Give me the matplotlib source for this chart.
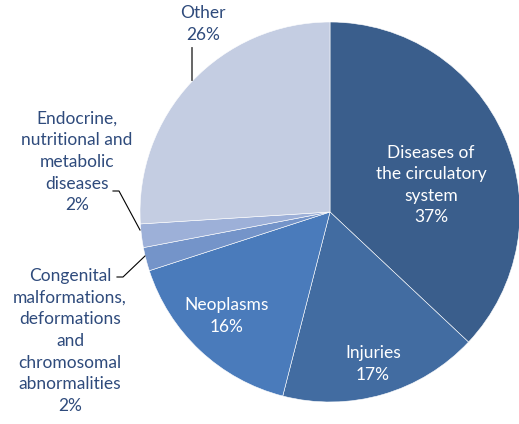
import matplotlib.pyplot as plt

# данные
categories = ["Diseases of\nthe circulatory\nsystem", "Injuries", "Neoplasms",
              "Congenital\nmalformations,\ndeformations\nand\nchromosomal\nabnormalities",
              "Endocrine,\nnutritional and\nmetabolic\ndiseases", "Other"]
shares = [37, 17, 16, 2, 2, 26]
colors = ["#3a5e8c", "#426ca1", "#4a7bbb", "#7494c9", "#9db0d8", "#c4cde2"]

# позиции подписей (в пикселях, y сверху вниз)
label_pos = [(431, 185), (373, 364), (227, 316), (70, 341), (77, 162), (203, 24)]
inside = [True, True, True, False, False, False]

W, H = 519, 424
fig = plt.figure(figsize=(W / 100, H / 100), dpi=100)
ax = fig.add_axes([0, 0, 1, 1])

ax.pie(shares, colors=colors, startangle=90, counterclock=False,
       center=(330, H - 212), radius=190,
       wedgeprops=dict(edgecolor="white", linewidth=0.4))
ax.set_xlim(0, W)
ax.set_ylim(0, H)
ax.set_aspect("equal")
ax.axis("off")

for name, val, (x, y), ins in zip(categories, shares, label_pos, inside):
    ax.text(x, H - y, f"{name}\n{val}%", ha="center", va="center",
            color="white" if ins else "#2f4b7c", fontsize=12.5,
            family="Lato", linespacing=1.43)

# выноски
ax.plot([192, 192], [H - 48, H - 80], color="#595959", lw=1.3)
ax.plot([113, 119, 140], [H - 191, H - 191, H - 230], color="black", lw=0.8)
ax.plot([117, 123, 145], [H - 277, H - 277, H - 256], color="black", lw=0.8)

fig.savefig("out.png", dpi=100)
